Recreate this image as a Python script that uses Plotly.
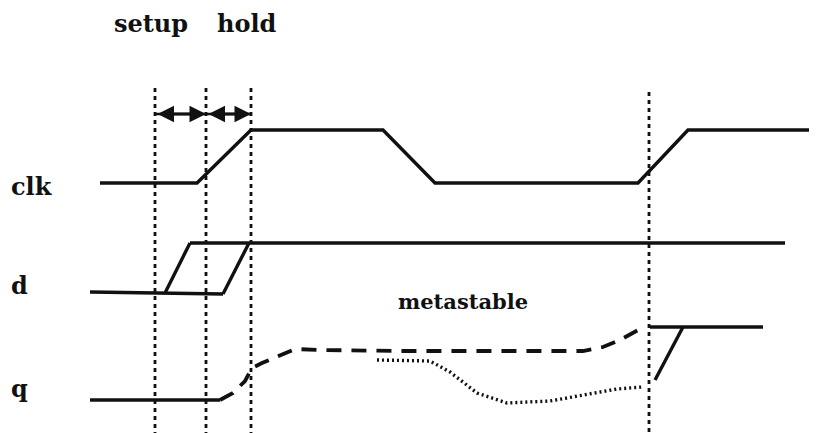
import plotly.graph_objects as go

# Timing diagram data (time axis in px-like units, signal level in px-like units)
clk_t = [100, 197, 251, 383, 435, 638, 688, 817]
clk_v = [183, 183, 130, 130, 183, 183, 130, 130]

d_low_t = [90, 155, 223]
d_low_v = [292, 293, 294]
d_rise_late_t = [223, 249]
d_rise_late_v = [294, 243]
d_rise_early_t = [165, 190]
d_rise_early_v = [293, 243]
d_high_t = [190, 785]
d_high_v = [243, 243]

q_low_t = [90, 220]
q_low_v = [400, 400]
q_meta_hi_t = [220, 233, 245, 252, 262, 280, 295, 320, 400, 500, 583, 603, 620, 640]
q_meta_hi_v = [400, 393, 381, 368, 363, 355, 349, 350, 351, 351, 351, 347, 340, 329]
q_meta_lo_t = [377, 430, 450, 477, 507, 550, 617, 643]
q_meta_lo_v = [360, 361, 372, 393, 403, 401, 389, 387]
q_resolve_t = [655, 683]
q_resolve_v = [380, 327]
q_high_t = [650, 763]
q_high_v = [327, 327]

edge_t = [155, 206, 251, 649]
edge_top = [88, 88, 88, 92]
edge_bottom = 433

setup_span = [155, 206]
hold_span = [206, 251]
arrow_level = 114

signal_names = ["clk", "d", "q"]
signal_label_y = [186, 285, 388]

fig = go.Figure()
BLK = "#111111"

def line(t, v, dash="solid", width=3.2):
    fig.add_trace(go.Scatter(x=t, y=v, mode="lines",
                             line=dict(color=BLK, width=width, dash=dash),
                             hoverinfo="skip", showlegend=False))

line(clk_t, clk_v, width=3.4)
line(d_low_t, d_low_v, width=3.4)
line(d_rise_late_t, d_rise_late_v, width=3.4)
line(d_rise_early_t, d_rise_early_v, width=3.4)
line(d_high_t, d_high_v, width=3.4)
line(q_low_t, q_low_v, width=3.4)
line(q_meta_hi_t, q_meta_hi_v, dash="15px,10px", width=3.8)
line(q_meta_lo_t, q_meta_lo_v, dash="2px,3px", width=3.4)
line(q_resolve_t, q_resolve_v, width=3.4)
line(q_high_t, q_high_v, width=3.4)

for t, top in zip(edge_t, edge_top):
    line([t, t], [top, edge_bottom], dash="4px,4px", width=2.8)

for span in (setup_span, hold_span):
    line(span, [arrow_level, arrow_level], width=2.6)
    fig.add_annotation(x=span[1], y=arrow_level, ax=span[0] + 1, ay=arrow_level,
                       xref="x", yref="y", axref="x", ayref="y",
                       showarrow=True, arrowhead=2, arrowside="end+start",
                       arrowsize=1.1, arrowwidth=3, arrowcolor=BLK, text="")

FAM = "DejaVu Serif, Liberation Serif, serif"
font = dict(family=FAM, color=BLK, size=24)
fig.add_annotation(x=112, y=23, text="<b>setup</b>", showarrow=False, xanchor="left",
                   font=font)
fig.add_annotation(x=215, y=23, text="<b>hold</b>", showarrow=False, xanchor="left",
                   font=font)
fig.add_annotation(x=463, y=301, text="<b>metastable</b>", showarrow=False,
                   font=dict(family=FAM, color=BLK, size=21))
for name, yv in zip(signal_names, signal_label_y):
    fig.add_annotation(x=9, y=yv, text=f"<b>{name}</b>", showarrow=False, xanchor="left",
                       font=font)

# the page body has an 8px margin; shift the ranges so data units equal screen pixels
fig.update_layout(
    width=809, height=425,
    margin=dict(l=0, r=0, t=0, b=0),
    paper_bgcolor="white", plot_bgcolor="white",
    xaxis=dict(range=[8, 817], visible=False, fixedrange=True),
    yaxis=dict(range=[433, 8], visible=False, fixedrange=True),
)

fig.write_html("out.html")
